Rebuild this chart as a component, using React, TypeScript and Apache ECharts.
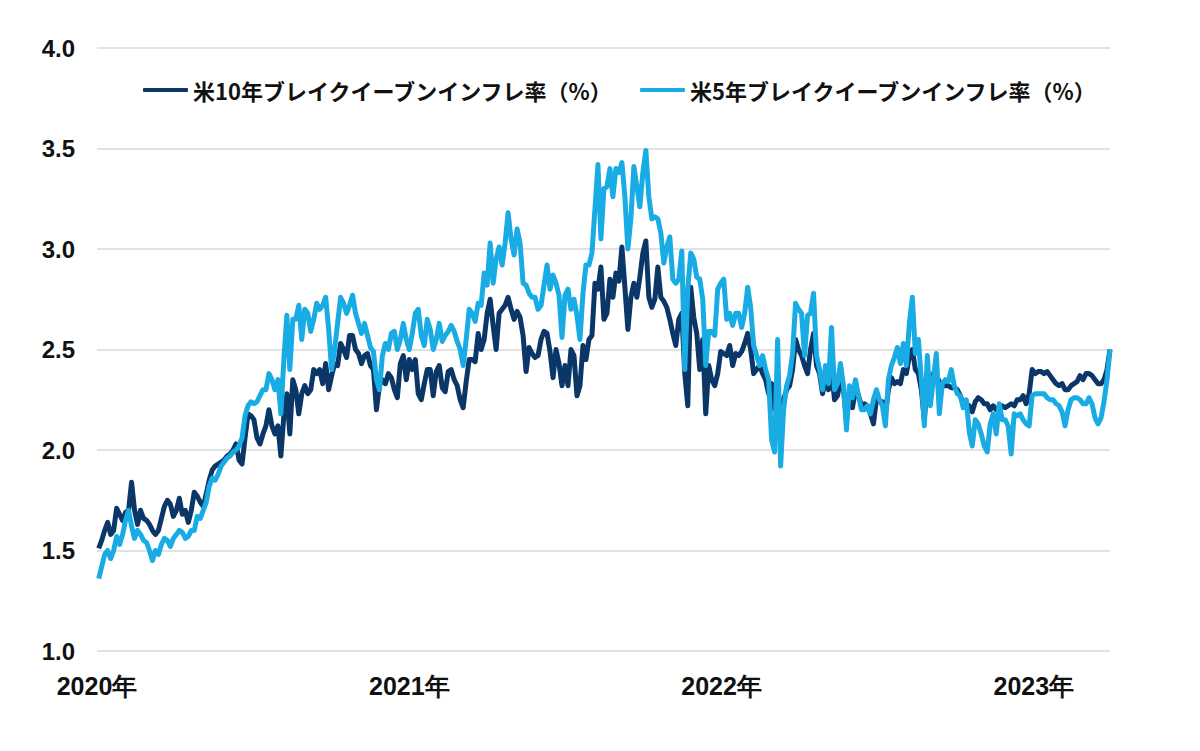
import React, { useEffect, useRef } from "react";
import * as echarts from "echarts";

// Observations every 3.5 days starting 2020-01-03
const FIRST_DATE = "2020-01-03";
const STEP_DAYS = 3.5;

const SERIES_NAMES = ["米10年ブレイクイーブンインフレ率（%）", "米5年ブレイクイーブンインフレ率（%）"];

const tenYear = [
  1.51, 1.55, 1.60, 1.64, 1.58, 1.60, 1.71, 1.68, 1.65, 1.69,
  1.70, 1.84, 1.70, 1.63, 1.70, 1.66, 1.65, 1.63, 1.60, 1.58,
  1.60, 1.66, 1.72, 1.75, 1.73, 1.67, 1.70, 1.76, 1.68, 1.70,
  1.64, 1.70, 1.79, 1.77, 1.74, 1.72, 1.78, 1.85, 1.90, 1.92,
  1.93, 1.94, 1.95, 1.97, 1.98, 2.00, 2.03, 1.95, 1.93, 2.06,
  2.18, 2.17, 2.15, 2.06, 2.03, 2.08, 2.12, 2.20, 2.12, 2.08,
  2.12, 1.97, 2.17, 2.28, 2.08, 2.35, 2.30, 2.18, 2.28, 2.32,
  2.28, 2.30, 2.40, 2.38, 2.40, 2.33, 2.43, 2.30, 2.37, 2.43,
  2.42, 2.53, 2.50, 2.46, 2.57, 2.57, 2.50, 2.48, 2.43, 2.47,
  2.48, 2.42, 2.40, 2.20, 2.32, 2.35, 2.33, 2.38, 2.36, 2.30,
  2.26, 2.43, 2.47, 2.35, 2.45, 2.40, 2.45, 2.28, 2.25, 2.33,
  2.40, 2.40, 2.27, 2.39, 2.42, 2.31, 2.29, 2.39, 2.40, 2.35,
  2.32, 2.25, 2.21, 2.34, 2.45, 2.45, 2.44, 2.58, 2.50, 2.55,
  2.68, 2.75, 2.62, 2.50, 2.68, 2.70, 2.72, 2.76, 2.70, 2.65,
  2.69, 2.66, 2.57, 2.39, 2.51, 2.48, 2.46, 2.47, 2.55, 2.59,
  2.58, 2.49, 2.36, 2.50, 2.43, 2.32, 2.42, 2.32, 2.50, 2.47,
  2.27, 2.32, 2.52, 2.45, 2.55, 2.57, 2.83, 2.80, 2.91, 2.65,
  2.68, 2.85, 2.76, 2.88, 2.84, 3.01, 2.81, 2.60, 2.76, 2.83,
  2.76, 2.86, 2.98, 3.04, 2.76, 2.71, 2.75, 2.91, 2.76, 2.74,
  2.71, 2.65, 2.58, 2.52, 2.65, 2.68, 2.38, 2.22, 2.81, 2.66,
  2.58, 2.40, 2.55, 2.18, 2.42, 2.35, 2.32, 2.38, 2.49, 2.48,
  2.47, 2.52, 2.42, 2.48, 2.47, 2.49, 2.53, 2.58, 2.50, 2.38,
  2.40, 2.42, 2.38, 2.35, 2.28, 2.33, 2.20, 2.35, 2.12, 2.25,
  2.30, 2.32, 2.40, 2.55, 2.50, 2.47, 2.42, 2.38, 2.50, 2.58,
  2.42, 2.38, 2.28, 2.35, 2.30, 2.40, 2.25, 2.27, 2.35, 2.30,
  2.15, 2.28, 2.21, 2.30, 2.27, 2.22, 2.23, 2.22, 2.18, 2.13,
  2.25, 2.24, 2.24, 2.18, 2.30, 2.36, 2.33, 2.34, 2.33, 2.40,
  2.38, 2.47, 2.50, 2.40, 2.38, 2.30, 2.15, 2.35, 2.25, 2.38,
  2.37, 2.34, 2.32, 2.32, 2.32, 2.31, 2.31, 2.30, 2.27, 2.23,
  2.23, 2.22, 2.19, 2.24, 2.26, 2.25, 2.23, 2.23, 2.20, 2.22,
  2.20, 2.20, 2.22, 2.21, 2.22, 2.23, 2.22, 2.25, 2.25, 2.27,
  2.23, 2.28, 2.40, 2.38, 2.39, 2.39, 2.38, 2.39, 2.37, 2.35,
  2.33, 2.32, 2.33, 2.30, 2.30, 2.32, 2.33, 2.34, 2.37, 2.35,
  2.38, 2.38, 2.37, 2.35, 2.33, 2.33, 2.35, 2.40, 2.50,
];

const fiveYear = [
  1.36, 1.42, 1.48, 1.50, 1.46, 1.50, 1.57, 1.53, 1.58, 1.65,
  1.70, 1.62, 1.56, 1.60, 1.58, 1.55, 1.54, 1.50, 1.45, 1.50,
  1.48, 1.53, 1.56, 1.55, 1.52, 1.56, 1.58, 1.60, 1.59, 1.56,
  1.57, 1.60, 1.60, 1.67, 1.66, 1.70, 1.74, 1.82, 1.86, 1.85,
  1.88, 1.92, 1.94, 1.96, 1.97, 1.99, 2.00, 2.02, 2.06, 2.17,
  2.22, 2.24, 2.23, 2.24, 2.27, 2.30, 2.30, 2.38, 2.35, 2.30,
  2.35, 2.18, 2.45, 2.67, 2.40, 2.65, 2.65, 2.72, 2.55, 2.70,
  2.68, 2.59, 2.65, 2.73, 2.70, 2.72, 2.76, 2.60, 2.40, 2.50,
  2.63, 2.76, 2.73, 2.68, 2.72, 2.77, 2.68, 2.63, 2.58, 2.63,
  2.57, 2.51, 2.49, 2.35, 2.30, 2.47, 2.53, 2.50, 2.58, 2.59,
  2.50, 2.55, 2.63, 2.55, 2.50, 2.58, 2.68, 2.70, 2.57, 2.52,
  2.65, 2.60, 2.50, 2.55, 2.63, 2.54, 2.57, 2.59, 2.62, 2.59,
  2.54, 2.50, 2.42, 2.55, 2.70, 2.68, 2.64, 2.73, 2.72, 2.88,
  2.82, 3.03, 2.83, 2.95, 3.01, 2.92, 3.03, 3.18, 3.05, 2.97,
  3.10, 3.03, 2.83, 2.82, 2.78, 2.76, 2.76, 2.70, 2.72, 2.82,
  2.92, 2.80, 2.87, 2.83, 2.77, 2.56, 2.77, 2.80, 2.70, 2.75,
  2.67, 2.55, 2.78, 2.92, 2.92, 2.98, 3.20, 3.42, 3.05, 3.30,
  3.31, 3.40, 3.26, 3.40, 3.38, 3.43, 3.26, 3.00, 3.15, 3.41,
  3.31, 3.21, 3.38, 3.49, 3.26, 3.15, 3.16, 3.15, 3.08, 2.93,
  3.01, 3.06, 2.85, 2.83, 2.85, 2.99, 2.40, 2.80, 2.98, 2.95,
  2.86, 2.85, 2.75, 2.42, 2.59, 2.59, 2.57, 2.80, 2.83, 2.85,
  2.65, 2.68, 2.62, 2.68, 2.68, 2.61, 2.68, 2.81, 2.71, 2.52,
  2.47, 2.42, 2.47, 2.40, 2.35, 2.05, 1.99, 2.55, 1.92, 2.20,
  2.32, 2.37, 2.48, 2.73, 2.70, 2.68, 2.47, 2.67, 2.68, 2.78,
  2.47, 2.40, 2.30, 2.42, 2.33, 2.61, 2.30, 2.33, 2.43, 2.32,
  2.10, 2.32, 2.26, 2.35, 2.27, 2.20, 2.20, 2.22, 2.18, 2.25,
  2.30, 2.25, 2.22, 2.12, 2.35, 2.42, 2.46, 2.51, 2.43, 2.53,
  2.42, 2.63, 2.76, 2.48, 2.55, 2.35, 2.12, 2.47, 2.22, 2.35,
  2.48, 2.18, 2.33, 2.35, 2.34, 2.40, 2.32, 2.28, 2.27, 2.21,
  2.25, 2.09, 2.02, 2.15, 2.13, 2.08, 2.02, 1.99, 2.13, 2.18,
  2.08, 2.23, 2.15, 2.15, 2.12, 1.98, 2.18, 2.17, 2.18, 2.15,
  2.13, 2.12, 2.27, 2.28, 2.28, 2.28, 2.28, 2.26, 2.25, 2.25,
  2.23, 2.22, 2.19, 2.12, 2.20, 2.25, 2.26, 2.26, 2.25, 2.23,
  2.23, 2.26, 2.23, 2.16, 2.13, 2.16, 2.24, 2.35, 2.50,
];

const Y_MIN = 1.0;
const Y_MAX = 4.0;
const Y_STEP = 0.5;
const X_START_YEAR = 2020;

function toDecimalYear(t: number): number {
  const d = new Date(t);
  const y = d.getUTCFullYear();
  const a = Date.UTC(y, 0, 1);
  const b = Date.UTC(y + 1, 0, 1);
  return y + (t - a) / (b - a);
}

export default function App() {
  const ref = useRef<HTMLDivElement>(null);

  useEffect(() => {
    if (!ref.current) return;
    const chart = echarts.init(ref.current, undefined, { renderer: "svg" });
    const start = Date.parse(FIRST_DATE + "T00:00:00Z");
    const n = Math.max(tenYear.length, fiveYear.length);
    const xs: number[] = [];
    for (let i = 0; i < n; i++) xs.push(toDecimalYear(start + i * STEP_DAYS * 86400000));
    const xMax = xs[n - 1];
    const numFont = "'Liberation Sans', Arial, sans-serif";
    const jpFont = "'Noto Sans CJK JP', 'Noto Sans', sans-serif";

    const legendCommon = {
      top: 71,
      icon: "roundRect",
      itemWidth: 45,
      itemHeight: 4,
      textStyle: {
        fontSize: 22,
        fontWeight: "bold" as const,
        color: "#111",
        fontFamily: jpFont,
        lineHeight: 28,
      },
    };

    chart.setOption({
      animation: false,
      backgroundColor: "#ffffff",
      grid: { left: 97, right: 90, top: 48, bottom: 100, containLabel: false },
      legend: [
        { ...legendCommon, left: 138, data: [SERIES_NAMES[0]] },
        { ...legendCommon, left: 635, data: [SERIES_NAMES[1]] },
      ],
      xAxis: {
        type: "value",
        min: X_START_YEAR,
        max: xMax,
        interval: 1,
        axisLine: { show: false },
        axisTick: { show: false },
        splitLine: { show: false },
        axisLabel: {
          margin: 22,
          fontSize: 25,
          fontWeight: "bold",
          color: "#111",
          fontFamily: numFont,
          showMaxLabel: false,
          formatter: (v: number) => (Math.abs(v - Math.round(v)) < 1e-6 ? `${Math.round(v)}年` : ""),
        },
      },
      yAxis: {
        type: "value",
        min: Y_MIN,
        max: Y_MAX,
        interval: Y_STEP,
        axisLine: { show: false },
        axisTick: { show: false },
        splitLine: { show: true, lineStyle: { color: "#d9d9d9", width: 1.5 } },
        axisLabel: {
          margin: 22,
          fontSize: 24,
          fontWeight: "bold",
          color: "#111",
          fontFamily: numFont,
          formatter: (v: number) => v.toFixed(1),
        },
      },
      series: [
        {
          name: SERIES_NAMES[0],
          type: "line",
          showSymbol: false,
          symbol: "none",
          color: "#0b3768",
          lineStyle: { width: 5, color: "#0b3768", join: "round" },
          data: tenYear.map((v, i) => [xs[i], v]),
        },
        {
          name: SERIES_NAMES[1],
          type: "line",
          showSymbol: false,
          symbol: "none",
          color: "#19ace4",
          lineStyle: { width: 5, color: "#19ace4", join: "round" },
          data: fiveYear.map((v, i) => [xs[i], v]),
        },
      ],
    });
    return () => chart.dispose();
  }, []);

  return (
    <div
      ref={ref}
      style={{ position: "absolute", left: 0, top: 0, width: 1200, height: 751, background: "#fff" }}
    />
  );
}
